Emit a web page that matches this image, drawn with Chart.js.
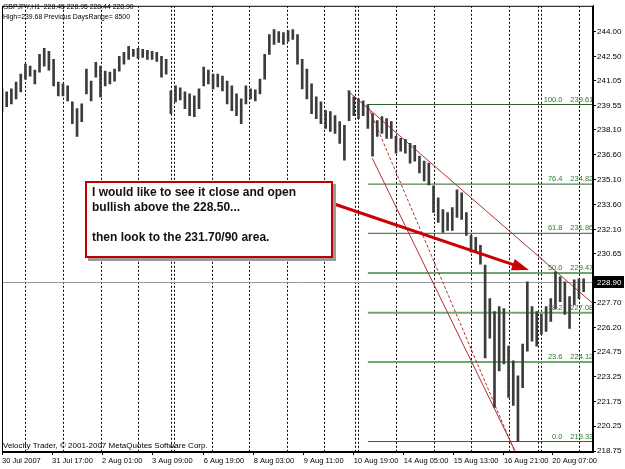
<!DOCTYPE html>
<html>
<head>
<meta charset="utf-8">
<script src="https://cdn.jsdelivr.net/npm/chart.js@4.4.0/dist/chart.umd.min.js"></script>
<style>
    body { margin: 0; background: #fff; }
    #wrap { position: relative; width: 625px; height: 469px; overflow: hidden; }
    .info { position: absolute; left: 3px; font: 8px "Liberation Sans", Arial, sans-serif; color: #000; white-space: pre; }
    .head { transform: scaleX(0.86); transform-origin: 0 0; }
    #note {
        position: absolute; left: 85px; top: 181px; width: 239px; height: 71px;
        border: 2px solid #c00000; background: #fff; box-shadow: 3px 3px 0 #9a9a9a;
        padding: 2px 0 0 5px; font: bold 12px "Liberation Sans", Arial, sans-serif; line-height: 15px; color: #111;
    }
</style>
</head>
<body>
<div id="wrap">
    <canvas id="chart" width="625" height="469"></canvas>
    <div class="info head" style="top:2px">GBPJPY,H1  228.45 228.95 228.44 228.90</div>
    <div class="info head" style="top:12px">High=239.68 Previous DaysRange= 8500</div>
    <div class="info" style="top:441px">Velocity Trader, © 2001-2007 MetaQuotes Software Corp.</div>
    <div id="note">I would like to see it close and open<br>bullish above the 228.50...<br><br>then look to the 231.70/90 area.</div>
</div>
<script>
// hourly bars, sampled every 3 hours (high / low)
const barStep = 3;
const highs = [240.55, 240.37, 240.55, 240.96, 241.44, 242.04, 241.92, 241.68, 242.63, 242.99,
    242.81, 242.33, 240.96, 240.85, 240.73, 239.77, 239.36, 239.65, 241.74, 241.02,
    242.15, 241.92, 241.62, 241.56, 241.74, 242.51, 242.75, 243.11, 242.93, 242.99,
    242.93, 242.87, 242.81, 242.75, 242.51, 242.33, 240.43, 240.73, 240.61, 240.37,
    240.25, 240.13, 240.55, 241.86, 241.68, 241.44, 241.44, 241.32, 241.02, 240.73,
    240.25, 239.95, 240.73, 240.55, 240.49, 241.14, 242.63, 243.82, 244.12, 244.00,
    243.94, 244.06, 244.12, 243.82, 242.33, 241.74, 240.85, 240.07, 239.77, 239.24,
    239.18, 238.94, 238.58, 238.35, 240.43, 240.07, 239.95, 239.83, 239.61, 239.06,
    238.64, 238.88, 238.76, 238.58, 237.69, 237.57, 237.51, 237.27, 237.15, 236.50,
    236.20, 236.08, 234.71, 234.00, 233.29, 233.11, 233.41, 234.48, 234.30, 233.11,
    231.74, 231.62, 231.14, 229.95, 227.93, 227.15, 227.45, 227.33, 225.07, 224.18,
    223.29, 225.19, 228.94, 227.45, 227.15, 226.98, 227.45, 227.93, 229.54, 229.24,
    228.94, 228.05, 229.06, 229.12, 229.12];
const lows = [239.18, 239.48, 239.65, 239.95, 240.37, 241.14, 241.32, 240.85, 241.56, 241.92,
    241.68, 240.73, 240.13, 240.13, 239.83, 238.46, 237.69, 238.58, 240.25, 239.83,
    241.26, 240.07, 240.73, 240.85, 241.02, 241.62, 242.04, 242.33, 242.51, 242.39,
    242.45, 242.33, 242.33, 242.21, 241.26, 241.44, 239.06, 239.77, 239.89, 239.36,
    238.94, 238.88, 239.36, 240.73, 240.85, 240.55, 240.67, 240.43, 239.65, 239.24,
    238.94, 238.46, 239.65, 239.95, 239.83, 240.25, 241.14, 242.63, 243.23, 243.35,
    243.23, 243.40, 243.52, 242.04, 240.55, 239.95, 239.06, 238.76, 238.46, 238.17,
    237.99, 237.87, 237.27, 236.26, 238.64, 238.94, 238.76, 238.94, 238.17, 236.50,
    237.69, 237.87, 237.57, 237.57, 236.68, 236.80, 236.68, 236.08, 236.20, 235.49,
    235.01, 234.77, 233.11, 232.51, 231.92, 232.04, 232.04, 232.81, 232.69, 231.74,
    230.73, 230.73, 230.01, 224.36, 225.55, 221.38, 223.58, 224.00, 221.98, 221.50,
    219.33, 222.57, 224.77, 225.37, 225.07, 225.79, 225.96, 226.56, 227.33, 227.75,
    226.98, 226.14, 227.57, 227.93, 228.35];

const xTickBars = [0, 32, 64, 96, 129, 161, 193, 225, 257, 289, 321, 352];
const xTickLabels = ["30 Jul 2007", "31 Jul 17:00", "2 Aug 01:00", "3 Aug 09:00", "6 Aug 19:00", "8 Aug 03:00",
    "9 Aug 11:00", "10 Aug 19:00", "14 Aug 05:00", "15 Aug 13:00", "16 Aug 21:00", "20 Aug 07:00"];
const daySeparators = [15, 39, 63, 87, 108, 110, 134, 158, 182, 206, 226, 228, 252, 276, 300, 324, 343, 345, 369];
const priceTicks = [244.00, 242.50, 241.05, 239.55, 238.10, 236.60, 235.10, 233.60, 232.10, 230.65,
    229.15, 227.70, 226.20, 224.75, 223.25, 221.75, 220.25, 218.75];

const fiboLevels = ["100.0", "76.4", "61.8", "50.0", "38.2", "23.6", "0.0"];
const fiboPrices = [239.61, 234.82, 231.86, 229.47, 227.08, 224.12, 219.33];
const fiboStart = 234;
const lastPrice = 228.90;

// trend lines: [bar, price] pairs
const upperLine = [[221, 240.45], [378, 227.63]];
const dashedLine = [[234.2, 239.48], [330.3, 218.2]];
const steepLine = [[236.8, 236.38], [331.1, 218.2]];
const arrowLine = [[212, 233.64], [337, 229.65]];

const fontFamily = "'Liberation Sans', Arial, sans-serif";
const xMax = 378;

function lineSet(points, color, width, dash, order) {
    return {
        type: "line",
        data: points.map(p => ({x: p[0], y: p[1]})),
        borderColor: color,
        borderWidth: width,
        borderDash: dash,
        pointRadius: 0,
        order: order
    };
}

const overlays = {
    id: "overlays",
    beforeDatasetsDraw(chart) {
        const {ctx, chartArea: a, scales: {x}} = chart;
        ctx.save();
        ctx.beginPath();
        ctx.rect(a.left, a.top, a.right - a.left, a.bottom - a.top);
        ctx.clip();
        ctx.strokeStyle = "#000";
        ctx.lineWidth = 1;
        ctx.setLineDash([2, 2]);
        daySeparators.forEach(b => {
            const px = Math.round(x.getPixelForValue(b)) + 0.5;
            ctx.beginPath();
            ctx.moveTo(px, a.top);
            ctx.lineTo(px, a.bottom);
            ctx.stroke();
        });
        ctx.restore();
    },
    afterDatasetsDraw(chart) {
        const {ctx, chartArea: a, scales: {x, y}} = chart;
        ctx.save();

        // fibo texts
        ctx.font = `7.5px ${fontFamily}`;
        ctx.fillStyle = "#2a7a2a";
        ctx.textBaseline = "bottom";
        fiboPrices.forEach((p, i) => {
            const py = Math.round(y.getPixelForValue(p)) - 1;
            ctx.textAlign = "right";
            ctx.fillText(fiboLevels[i], x.getPixelForValue(358.5), py);
            ctx.textAlign = "left";
            ctx.fillText(p.toFixed(2), x.getPixelForValue(363.5), py);
        });

        // arrow
        const x1 = x.getPixelForValue(arrowLine[0][0]), y1 = y.getPixelForValue(arrowLine[0][1]);
        const x2 = x.getPixelForValue(arrowLine[1][0]), y2 = y.getPixelForValue(arrowLine[1][1]);
        const ang = Math.atan2(y2 - y1, x2 - x1);
        ctx.strokeStyle = "#cc0000";
        ctx.fillStyle = "#cc0000";
        ctx.lineWidth = 3;
        ctx.beginPath();
        ctx.moveTo(x1, y1);
        ctx.lineTo(x2 - 12 * Math.cos(ang), y2 - 12 * Math.sin(ang));
        ctx.stroke();
        ctx.beginPath();
        ctx.moveTo(x2, y2);
        ctx.lineTo(x2 - 17 * Math.cos(ang) + 6 * Math.sin(ang), y2 - 17 * Math.sin(ang) - 6 * Math.cos(ang));
        ctx.lineTo(x2 - 17 * Math.cos(ang) - 6 * Math.sin(ang), y2 - 17 * Math.sin(ang) + 6 * Math.cos(ang));
        ctx.closePath();
        ctx.fill();

        // frame
        ctx.strokeStyle = "#000";
        ctx.lineWidth = 1;
        ctx.strokeRect(a.left + 0.5, a.top + 0.5, a.right - a.left - 1, a.bottom - a.top - 1);

        // last price box
        const py = Math.round(y.getPixelForValue(lastPrice));
        ctx.fillStyle = "#000";
        ctx.fillRect(a.right + 1, py - 6, 30, 12);
        ctx.fillStyle = "#fff";
        ctx.font = `8px ${fontFamily}`;
        ctx.textAlign = "left";
        ctx.textBaseline = "middle";
        ctx.fillText(lastPrice.toFixed(2), a.right + 4, py + 0.5);
        ctx.restore();
    }
};

const datasets = [
    {
        type: "bar",
        data: highs.map((h, i) => ({x: i * barStep, y: [lows[i], h]})),
        backgroundColor: "#3c3c3c",
        barThickness: 2,
        grouped: false,
        order: 1
    },
    lineSet([[0, lastPrice], [xMax, lastPrice]], "#9a9a9a", 1, [], 5),
    lineSet(upperLine, "#b03030", 1, [], 2),
    lineSet(dashedLine, "#b03030", 1, [3, 2], 2),
    lineSet(steepLine, "#b03030", 1, [], 2)
];

fiboPrices.forEach((p, i) => {
    const light = i >= 3 && i <= 5;
    datasets.push(lineSet([[fiboStart, p], [xMax, p]], light ? "#6fa66f" : "#2e652e", light ? 2 : 1, [], 4));
});

new Chart(document.getElementById("chart"), {
    type: "bar",
    data: {datasets: datasets},
    options: {
        responsive: false,
        animation: false,
        events: [],
        layout: {padding: {left: 2, top: 1, right: 0, bottom: 0}},
        plugins: {legend: {display: false}, tooltip: {enabled: false}},
        scales: {
            x: {
                type: "linear",
                min: 0,
                max: xMax,
                offset: false,
                afterBuildTicks: s => { s.ticks = xTickBars.map(v => ({value: v})); },
                afterFit: s => { s.height = 17; },
                grid: {drawOnChartArea: false, offset: false, tickLength: 3, color: "#000"},
                border: {color: "#000"},
                ticks: {
                    autoSkip: false,
                    maxRotation: 0,
                    align: "start",
                    padding: 1,
                    color: "#000",
                    font: {family: fontFamily, size: 7.5},
                    callback: v => xTickLabels[xTickBars.indexOf(v)]
                }
            },
            y: {
                position: "right",
                min: 218.70,
                max: 245.55,
                afterBuildTicks: s => { s.ticks = priceTicks.map(v => ({value: v})); },
                afterFit: s => { s.width = 32; },
                grid: {drawOnChartArea: false, tickLength: 3, color: "#000"},
                border: {color: "#000"},
                ticks: {
                    padding: 1,
                    color: "#000",
                    font: {family: fontFamily, size: 8},
                    callback: v => Number(v).toFixed(2)
                }
            }
        }
    },
    plugins: [overlays]
});
</script>
</body>
</html>
